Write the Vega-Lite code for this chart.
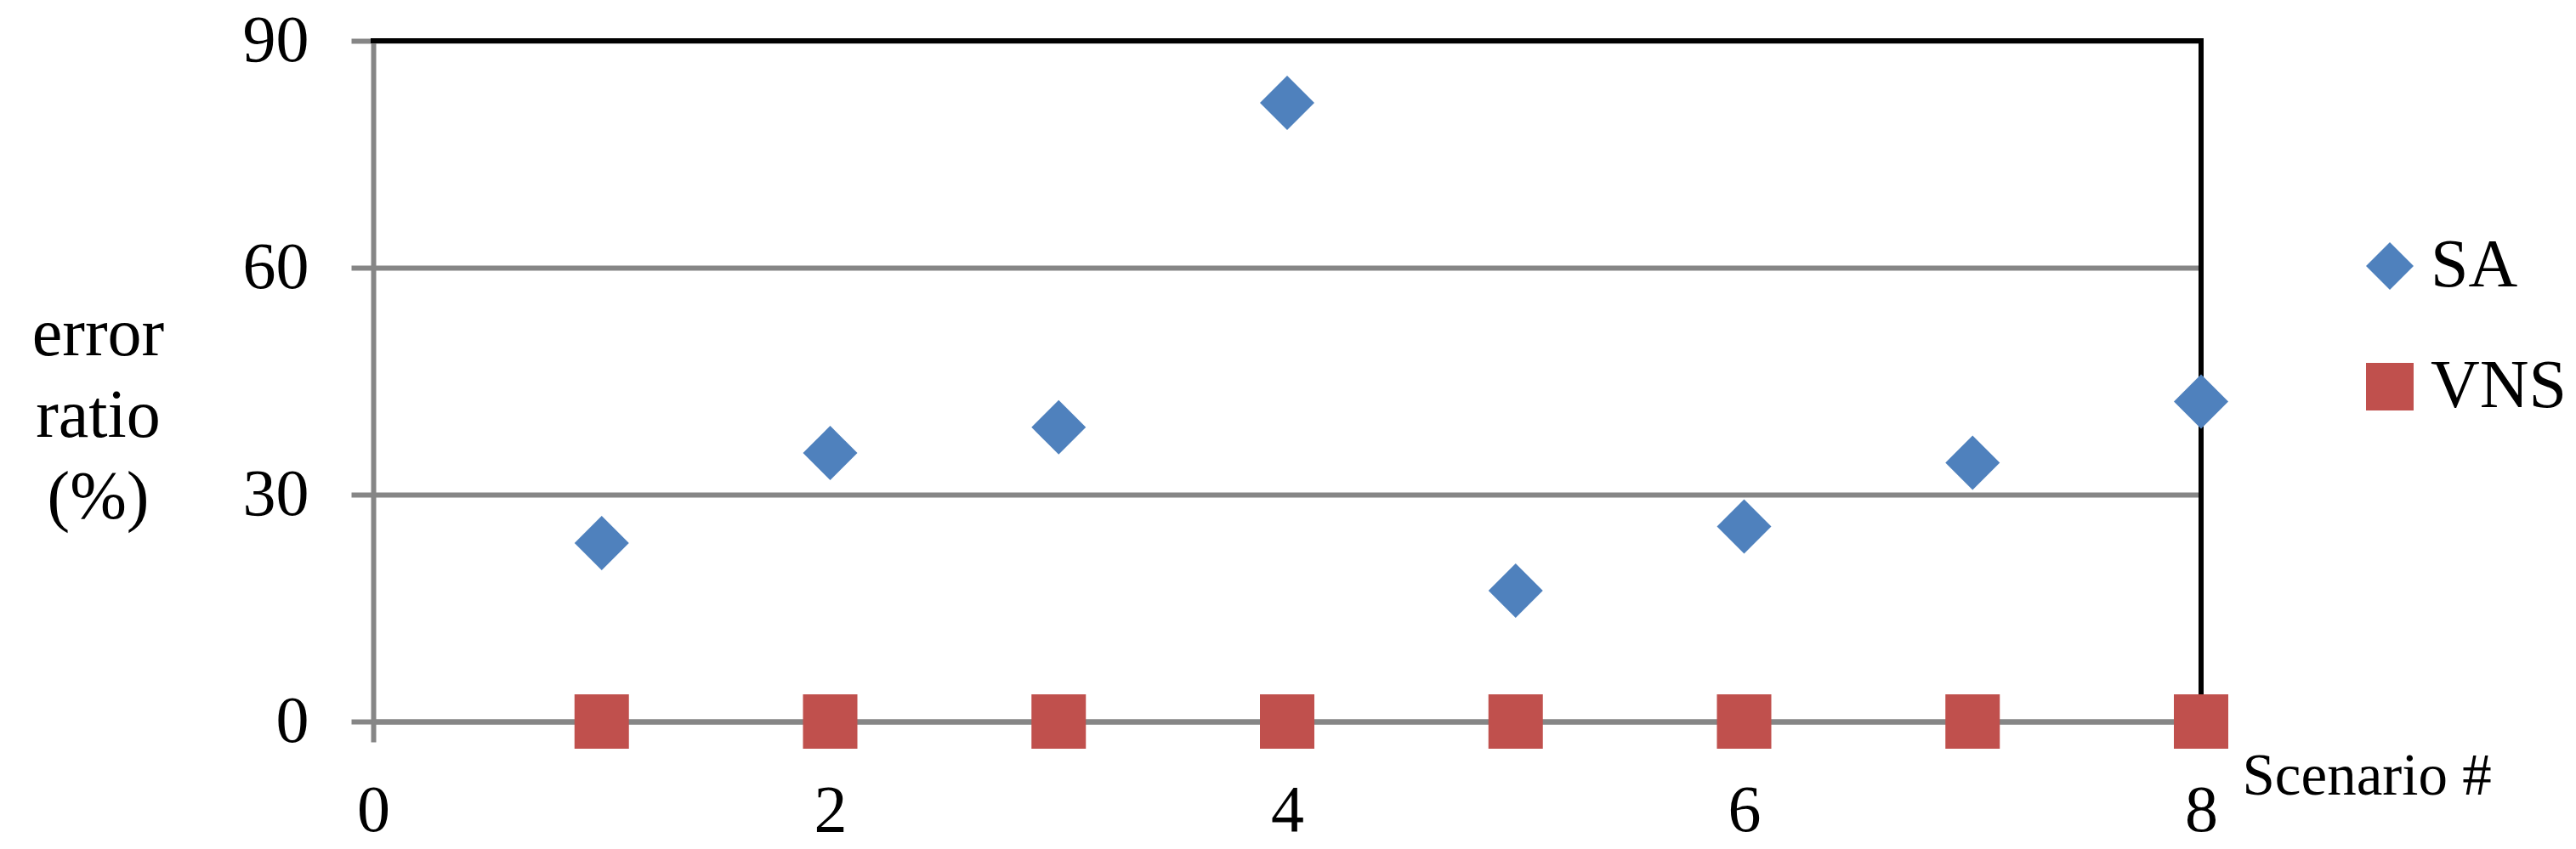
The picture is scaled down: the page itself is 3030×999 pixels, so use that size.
{
  "$schema": "https://vega.github.io/schema/vega-lite/v6.json",
  "width": 2150,
  "height": 801,
  "autosize": {"type": "none"},
  "padding": {"left": 439, "top": 48, "right": 441, "bottom": 150},
  "background": "white",
  "config": {"view": {"stroke": null}, "font": "Liberation Serif"},
  "encoding": {
    "x": {
      "field": "scenario", "type": "quantitative",
      "scale": {"domain": [0, 8], "nice": false, "zero": false},
      "axis": {
        "values": [0, 2, 4, 6, 8],
        "title": "Scenario #",
        "grid": false,
        "domainColor": "#868686", "domainWidth": 6,
        "ticks": true, "tickSize": 24, "tickWidth": 6,
        "tickColor": {"condition": {"test": "datum.value === 0", "value": "#868686"}, "value": "transparent"},
        "labelFont": "Liberation Serif", "labelFontSize": 78, "labelColor": "black",
        "labelPadding": 42, "labelFlush": false, "labelOverlap": false,
        "titleFont": "Liberation Serif", "titleFontSize": 69, "titleFontWeight": "normal", "titleColor": "black",
        "titleX": 2198, "titleY": 85, "titleAlign": "left", "titleBaseline": "alphabetic", "titleAnchor": "start"
      }
    },
    "y": {
      "field": "value", "type": "quantitative",
      "scale": {"domain": [0, 90], "nice": false},
      "axis": {
        "values": [0, 30, 60, 90],
        "title": ["error", "ratio", "(%)"],
        "grid": true, "gridColor": "#868686", "gridWidth": 6,
        "domainColor": "#868686", "domainWidth": 6,
        "tickColor": "#868686", "tickWidth": 6, "tickSize": 26,
        "labelFont": "Liberation Serif", "labelFontSize": 78, "labelColor": "black",
        "labelPadding": 50, "labelOverlap": false,
        "titleFont": "Liberation Serif", "titleFontSize": 80, "titleFontWeight": "normal", "titleColor": "black",
        "titleAngle": 0, "titleX": -324, "titleY": 369, "titleAlign": "center",
        "titleBaseline": "alphabetic", "titleLineHeight": 96
      }
    }
  },
  "layer": [
    {
      "data": {"values": [
        {"scenario": 0, "scenario2": 8, "value": 90, "value2": 90},
        {"scenario": 8, "scenario2": 8, "value": 0, "value2": 90}
      ]},
      "mark": {"type": "rule", "color": "black", "strokeWidth": 6, "strokeCap": "square"},
      "encoding": {
        "x2": {"field": "scenario2"},
        "y2": {"field": "value2"}
      }
    },
    {
      "data": {"values": [
        {"scenario": 1, "method": "SA", "value": 23.6},
        {"scenario": 2, "method": "SA", "value": 35.5},
        {"scenario": 3, "method": "SA", "value": 38.9},
        {"scenario": 4, "method": "SA", "value": 81.8},
        {"scenario": 5, "method": "SA", "value": 17.3},
        {"scenario": 6, "method": "SA", "value": 25.8},
        {"scenario": 7, "method": "SA", "value": 34.2},
        {"scenario": 8, "method": "SA", "value": 42.3},
        {"scenario": 1, "method": "VNS", "value": 0},
        {"scenario": 2, "method": "VNS", "value": 0},
        {"scenario": 3, "method": "VNS", "value": 0},
        {"scenario": 4, "method": "VNS", "value": 0},
        {"scenario": 5, "method": "VNS", "value": 0},
        {"scenario": 6, "method": "VNS", "value": 0},
        {"scenario": 7, "method": "VNS", "value": 0},
        {"scenario": 8, "method": "VNS", "value": 0}
      ]},
      "mark": {"type": "point", "filled": true, "opacity": 1, "size": 4096, "strokeWidth": 0, "clip": false},
      "encoding": {
        "color": {
          "field": "method", "type": "nominal",
          "scale": {"domain": ["SA", "VNS"], "range": ["#4F81BD", "#C0504D"]},
          "legend": {
            "orient": "none", "legendX": 2332, "legendY": 225, "title": null,
            "symbolSize": 3136, "symbolStrokeWidth": 0,
            "labelFont": "Liberation Serif", "labelFontSize": 80, "labelColor": "black",
            "labelOffset": 8, "labelLimit": 500, "rowPadding": 62, "padding": 0
          }
        },
        "shape": {
          "field": "method", "type": "nominal",
          "scale": {"domain": ["SA", "VNS"], "range": ["diamond", "square"]},
          "legend": {
            "orient": "none", "legendX": 2332, "legendY": 225, "title": null,
            "symbolSize": 3136, "symbolStrokeWidth": 0,
            "labelFont": "Liberation Serif", "labelFontSize": 80, "labelColor": "black",
            "labelOffset": 8, "labelLimit": 500, "rowPadding": 62, "padding": 0
          }
        }
      }
    }
  ]
}
